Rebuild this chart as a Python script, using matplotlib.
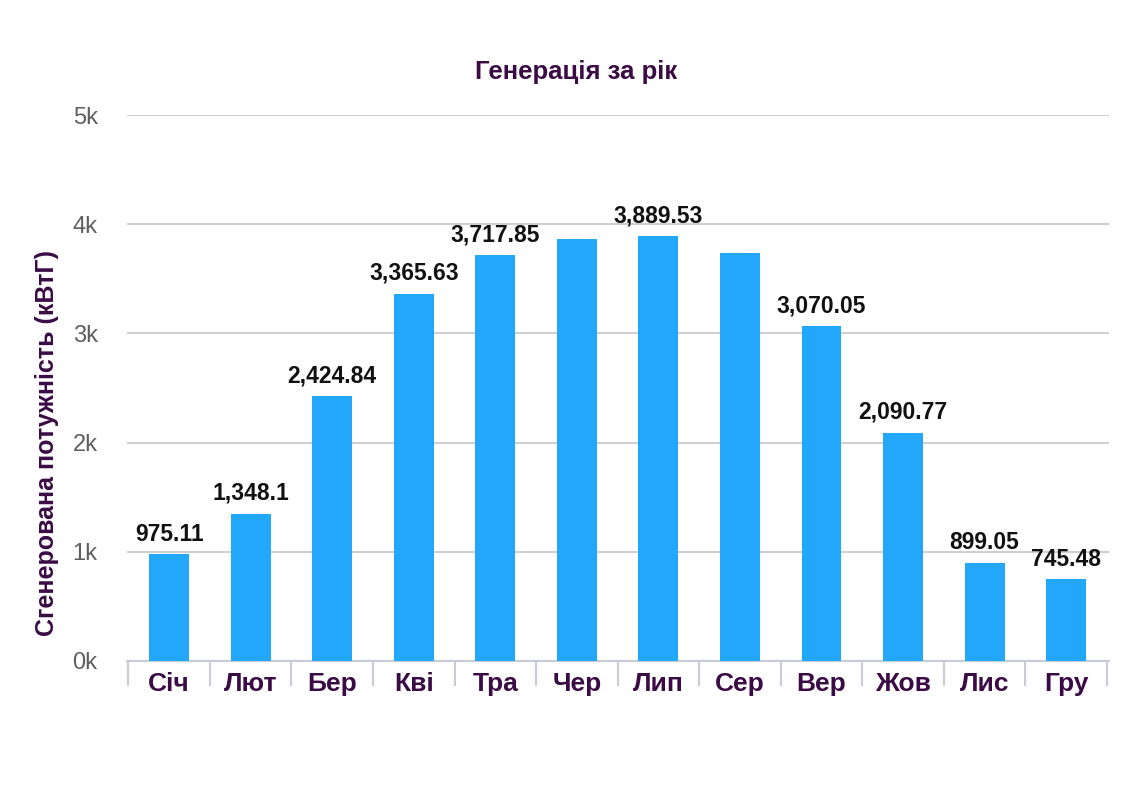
import numpy as np
import matplotlib.pyplot as plt
from matplotlib.ticker import FuncFormatter

months = ['Січ', 'Лют', 'Бер', 'Кві', 'Тра', 'Чер', 'Лип', 'Сер', 'Вер', 'Жов', 'Лис', 'Гру']
values = [975.11, 1348.1, 2424.84, 3365.63, 3717.85, 3870.0, 3889.53, 3740.0,
          3070.05, 2090.77, 899.05, 745.48]
labels = ['975.11', '1,348.1', '2,424.84', '3,365.63', '3,717.85', '', '3,889.53', '',
          '3,070.05', '2,090.77', '899.05', '745.48']


def main():
    plt.rcParams['font.family'] = ['Liberation Sans', 'DejaVu Sans']
    purple = '#3a0b45'
    fig = plt.figure(figsize=(11.22, 8), dpi=100)
    ax = fig.add_axes([0.113, 0.174, 0.875, 0.682])
    x = np.arange(len(months))
    bars = ax.bar(x, values, width=0.49, color='#23a7fb', zorder=3)
    for b, lab in zip(bars, labels):
        if lab:
            ax.text(b.get_x() + b.get_width() / 2, b.get_height() + 80, lab,
                    ha='center', va='bottom', fontsize=16.5, fontweight='bold',
                    color='#111111')
    ax.set_xlim(-0.52, len(months) - 0.48)
    ax.set_ylim(0, 5000)
    ax.set_yticks([0, 1000, 2000, 3000, 4000, 5000])
    ax.yaxis.set_major_formatter(FuncFormatter(lambda v, p: '%dk' % (v // 1000)))
    ax.grid(axis='y', color='#d0d0d0', linewidth=1.5, zorder=0)
    for s in ['top', 'right', 'left']:
        ax.spines[s].set_visible(False)
    ax.spines['bottom'].set_color('#c8ccd4')
    ax.spines['bottom'].set_linewidth(1.5)
    ax.tick_params(axis='y', length=0, labelsize=17, labelcolor='#5f5f5f', pad=21)
    ax.set_xticks(x)
    ax.set_xticklabels(months, fontsize=19, fontweight='bold', color=purple)
    ax.tick_params(axis='x', length=0, pad=8)
    # category separators below the axis
    ax.set_xticks(np.arange(len(months) + 1) - 0.5, minor=True)
    ax.tick_params(axis='x', which='minor', length=18, width=1.5, color='#c8ccd4')
    ax.set_ylabel('Сгенерована потужність (кВтГ)', fontsize=18, fontweight='bold',
                  color=purple)
    ax.yaxis.set_label_coords(-0.069, 0.40)
    fig.text(0.513, 0.91, 'Генерація за рік', ha='center', va='center',
             fontsize=18.5, fontweight='bold', color=purple)
    fig.savefig('out.png', dpi=100)


if __name__ == "__main__":
    main()
